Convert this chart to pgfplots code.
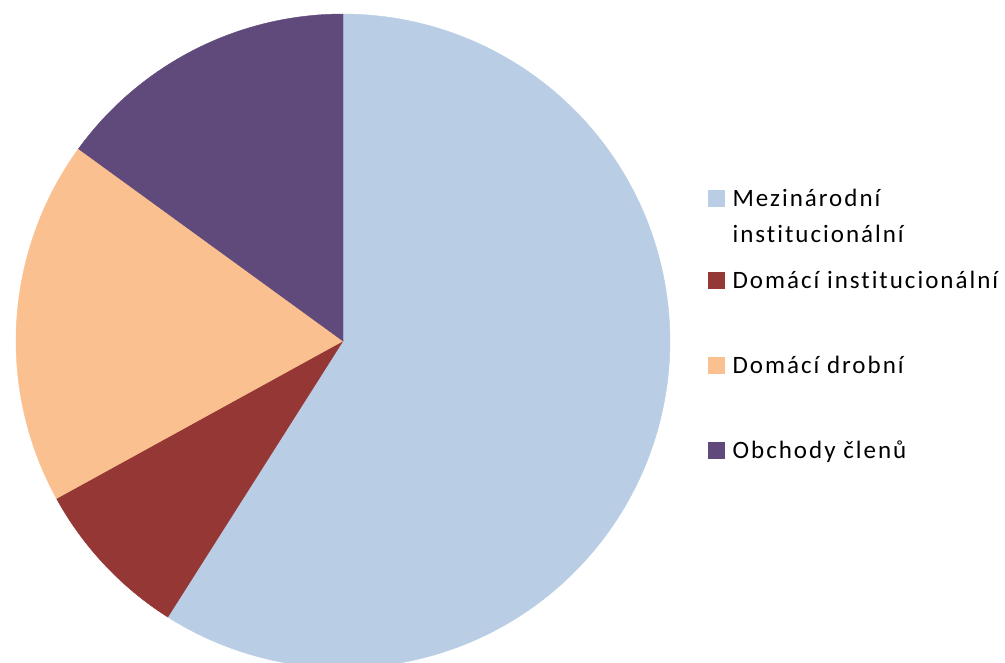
\documentclass[border=0pt]{standalone}
\usepackage{pgfplots}
\usepackage{pgfplotstable}
\usepackage{fontspec}
\setmainfont{Carlito}
\newfontfamily\legfont[LetterSpace=8,Ligatures=NoCommon]{Carlito}
\pgfplotsset{compat=1.18}
\definecolor{cblue}{HTML}{B9CDE5}
\definecolor{cred}{HTML}{953735}
\definecolor{cpeach}{HTML}{FAC090}
\definecolor{cpurple}{HTML}{604A7B}
\pgfplotstableread{
idx value
0 59.0
1 8.0
2 18.0
3 15.0
}\piedata
\pgfplotstablegetelem{0}{value}\of\piedata \let\vA\pgfplotsretval
\pgfplotstablegetelem{1}{value}\of\piedata \let\vB\pgfplotsretval
\pgfplotstablegetelem{2}{value}\of\piedata \let\vC\pgfplotsretval
\pgfplotstablegetelem{3}{value}\of\piedata \let\vD\pgfplotsretval
\pgfmathsetmacro\aA{90}
\pgfmathsetmacro\aB{\aA-3.6*\vA}
\pgfmathsetmacro\aC{\aB-3.6*\vB}
\pgfmathsetmacro\aD{\aC-3.6*\vC}
\pgfmathsetmacro\aE{\aD-3.6*\vD}
\def\cx{343}
\def\cy{322}
\def\rr{327}
\begin{document}
\begin{tikzpicture}
\path[use as bounding box] (0,0) rectangle (1005pt,663pt);
\clip (0,0) rectangle (1005pt,663pt);
\begin{axis}[
  at={(0,0)}, anchor=south west,
  scale only axis, width=1005pt, height=663pt,
  xmin=0, xmax=1005, ymin=0, ymax=663,
  hide axis, clip=true,
  legend image code/.code={\fill[#1] (0pt,0pt) rectangle (16pt,16pt);},
  legend style={draw=none, fill=none, inner sep=0pt, at={(axis cs:708,475)}, anchor=north west,
    row sep=61pt, column sep=8pt,
    font=\fontsize{25}{36}\selectfont\legfont,
    nodes={inner sep=0pt, anchor=base west, text height=18pt, text depth=6pt}},
  legend cell align=left,
]
\addplot[fill=cblue, draw=cblue, line width=0.4pt, domain=\aB:\aA, samples=150, variable=\t]
  ({\cx+\rr*cos(\t)}, {\cy+\rr*sin(\t)}) -- (axis cs:\cx,\cy) -- cycle;
\addlegendentry[text depth=3pt]{\vtop{\hbox{Mezinárodní}\hbox{institucionální}}}
\addplot[fill=cred, draw=cred, line width=0.4pt, domain=\aC:\aB, samples=40, variable=\t]
  ({\cx+\rr*cos(\t)}, {\cy+\rr*sin(\t)}) -- (axis cs:\cx,\cy) -- cycle;
\addlegendentry{Domácí institucionální}
\addplot[fill=cpeach, draw=cpeach, line width=0.4pt, domain=\aD:\aC, samples=60, variable=\t]
  ({\cx+\rr*cos(\t)}, {\cy+\rr*sin(\t)}) -- (axis cs:\cx,\cy) -- cycle;
\addlegendentry{Domácí drobní}
\addplot[fill=cpurple, draw=cpurple, line width=0.4pt, domain=\aE:\aD, samples=60, variable=\t]
  ({\cx+\rr*cos(\t)}, {\cy+\rr*sin(\t)}) -- (axis cs:\cx,\cy) -- cycle;
\addlegendentry{Obchody členů}
\end{axis}
\end{tikzpicture}
\end{document}
